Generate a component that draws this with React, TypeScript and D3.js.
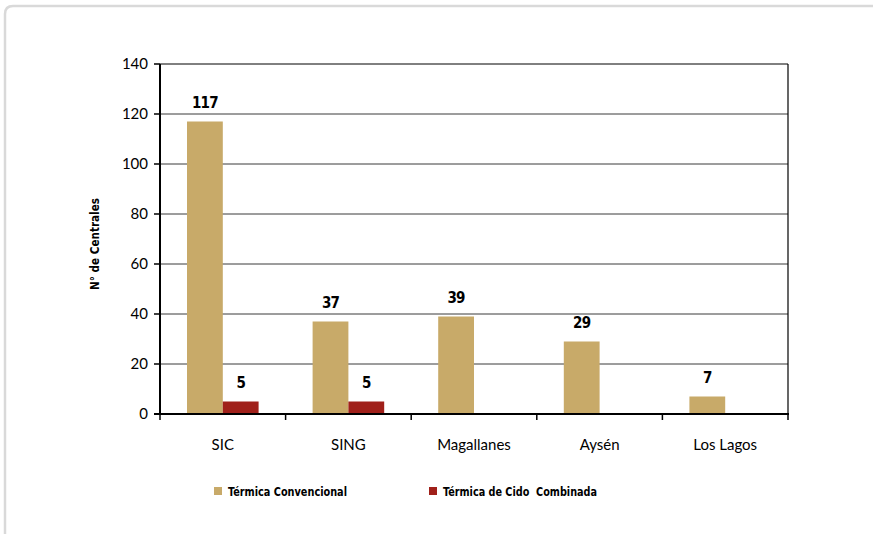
import React from "react";
import * as d3 from "d3";

const categories = ["SIC", "SING", "Magallanes", "Aysén", "Los Lagos"];
const seriesNames = ["Térmica Convencional", "Térmica de Cido  Combinada"];
const convencional = [117, 37, 39, 29, 7];
const cicloCombinado = [5, 5, 0, 0, 0];
const yTicks = [0, 20, 40, 60, 80, 100, 120, 140];
const colors = ["#C8AA69", "#A0201A"];

export default function App() {
  const W = 873, H = 534;
  const left = 160, right = 788, top = 64, bottom = 414;
  const x = d3.scaleBand<string>().domain(categories).range([left, right]).paddingInner(0).paddingOuter(0);
  const y = d3.scaleLinear().domain([0, 140]).range([bottom, top]);
  const bw = x.bandwidth() * 0.285;
  const series = [convencional, cicloCombinado];
  const condensed = "'DejaVu Sans Condensed', 'DejaVu Sans', sans-serif";
  const regular = "Lato, 'Open Sans', sans-serif";
  const legendLens = [119, 154];
  return (
    <svg width={W} height={H} style={{ position: "absolute", left: 0, top: 0, background: "#fff" }}>
      <path d={`M5,${H + 5} L5,14 Q5,6 13,6 L${W + 5},6`} fill="none" stroke="#d9d9d9" strokeWidth={2.5} />
      {yTicks.map((t) => (
        <g key={t}>
          {t > 0 && <line x1={left} x2={right} y1={y(t)} y2={y(t)} stroke={t === 140 ? "#000" : "#3a3a3a"} strokeWidth={1} />}
          <line x1={left - 6} x2={left} y1={y(t)} y2={y(t)} stroke="#000" strokeWidth={1.5} />
          <text x={left - 12} y={y(t)} dy="0.35em" textAnchor="end" fontFamily={regular} fontSize={15} fill="#000">{t}</text>
        </g>
      ))}
      <line x1={right} x2={right} y1={top} y2={bottom} stroke="#000" strokeWidth={1.2} />
      {categories.map((c, i) => {
        const cx = x(c)! + x.bandwidth() / 2;
        return (
          <g key={c}>
            {series.map((s, j) => {
              const v = s[i];
              if (!v) return null;
              const bx = cx - bw + j * bw;
              return (
                <g key={j}>
                  <rect x={bx} y={y(v)} width={bw} height={bottom - y(v)} fill={colors[j]} />
                  <text x={bx + bw / 2} y={y(v) - 13.5} textAnchor="middle" fontFamily={condensed} fontWeight="bold" fontSize={15} letterSpacing={-0.8} fill="#000">{v}</text>
                </g>
              );
            })}
            <text x={cx} y={445} dy="0.35em" textAnchor="middle" fontFamily={regular} fontSize={15} fill="#000">{c}</text>
          </g>
        );
      })}
      <line x1={left} x2={left} y1={top} y2={bottom + 1} stroke="#000" strokeWidth={2} />
      <line x1={left - 6} x2={right + 1} y1={bottom} y2={bottom} stroke="#000" strokeWidth={2} />
      {d3.range(categories.length + 1).map((i) => {
        const tx = left + i * x.bandwidth();
        return <line key={i} x1={tx} x2={tx} y1={bottom} y2={bottom + 6} stroke="#000" strokeWidth={1.5} />;
      })}
      <text transform={`translate(99,244) rotate(-90)`} textAnchor="middle" fontFamily={condensed} fontWeight="bold" fontSize={12.5} textLength={92} lengthAdjust="spacingAndGlyphs" fill="#000">N° de Centrales</text>
      {seriesNames.map((n, j) => {
        const lx = [214, 429][j];
        return (
          <g key={n}>
            <rect x={lx} y={487} width={8} height={8} fill={colors[j]} />
            <text x={lx + 14} y={491} dy="0.35em" fontFamily={condensed} fontWeight="bold" fontSize={13} textLength={legendLens[j]} lengthAdjust="spacingAndGlyphs" fill="#000" style={{ whiteSpace: "pre" }}>{n}</text>
          </g>
        );
      })}
    </svg>
  );
}
